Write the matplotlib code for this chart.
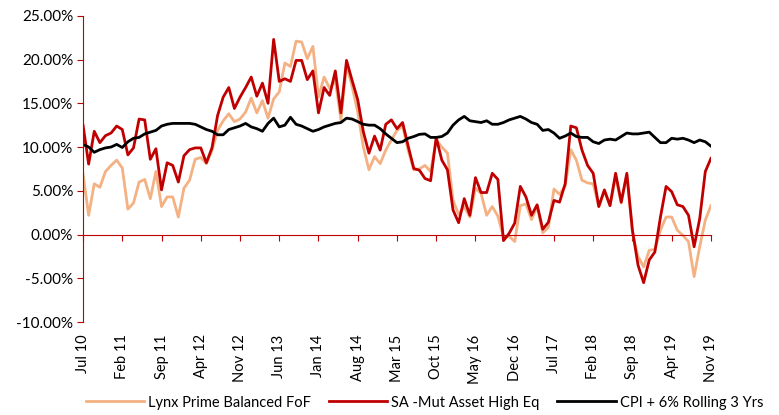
import matplotlib
matplotlib.use("Agg")
import matplotlib.pyplot as plt
import matplotlib.transforms as mtrans
import numpy as np

plt.rcParams['font.family'] = ['Lato', 'DejaVu Sans']

# monthly values, Jul 2010 .. Nov 2019 (in %)
lynx = [6.9, 2.2, 5.8, 5.4, 7.2, 7.9, 8.5, 7.6, 2.9, 3.6,
        6.0, 6.3, 4.1, 7.2, 3.2, 4.3, 4.3, 2.0, 5.3, 6.2,
        8.6, 8.8, 8.1, 9.6, 11.9, 13.0, 13.8, 12.9, 13.2, 14.0,
        15.6, 13.9, 15.3, 13.3, 15.5, 16.3, 19.6, 19.2, 22.1, 22.0,
        20.1, 21.5, 15.7, 18.0, 16.7, 17.65, 13.1, 19.4, 16.9, 14.0,
        10.0, 7.4, 8.9, 8.1, 9.65, 10.8, 11.9, 12.4, 9.6, 7.4,
        7.5, 7.9, 7.2, 10.8, 10.0, 9.3, 3.9, 2.3, 3.2, 2.0,
        5.3, 4.7, 2.2, 3.2, 2.1, -0.3, -0.2, -0.8, 3.3, 3.5,
        1.7, 3.2, 0.2, 0.8, 5.2, 4.6, 5.5, 9.7, 8.5, 6.2,
        5.9, 5.8, 3.2, 5.0, 3.3, 6.6, 3.6, 6.8, 0.2, -2.5,
        -3.7, -1.8, -1.7, 0.5, 2.0, 2.0, 0.5, -0.1, -0.8, -4.8,
        -1.4, 1.65, 3.3]

sa_high_eq = [12.5, 8.05, 11.8, 10.5, 11.3, 11.6, 12.4, 12.0, 9.1, 9.9,
              13.2, 13.1, 8.6, 9.8, 5.1, 8.2, 7.9, 6.0, 9.0, 9.7,
              9.9, 9.9, 8.2, 9.9, 13.6, 15.7, 16.8, 14.4, 15.7, 16.8,
              18.0, 15.8, 17.3, 15.0, 22.3, 17.5, 17.8, 17.5, 19.9, 19.9,
              17.7, 18.7, 13.9, 16.8, 15.9, 18.7, 13.9, 19.9, 17.6, 15.4,
              11.75, 9.3, 11.25, 9.65, 12.6, 13.1, 12.1, 12.8, 10.1, 7.55,
              7.35, 6.4, 6.15, 11.1, 8.5, 7.4, 2.8, 1.35, 4.1, 2.2,
              6.5, 4.8, 4.8, 7.0, 6.3, -0.7, 0.13, 1.3, 5.5, 4.3,
              2.2, 3.4, 0.6, 1.4, 3.9, 3.7, 5.8, 12.4, 12.2, 9.65,
              7.9, 7.0, 3.2, 5.1, 3.3, 7.0, 3.7, 7.0, 0.5, -3.5,
              -5.5, -2.9, -2.0, 2.0, 5.5, 4.9, 3.4, 3.2, 2.2, -1.4,
              1.8, 7.2, 8.7]

cpi_6 = [10.3, 10.0, 9.4, 9.7, 9.9, 10.0, 10.3, 9.95, 10.6, 11.0,
         11.1, 11.5, 11.7, 11.9, 12.4, 12.6, 12.7, 12.7, 12.7, 12.7,
         12.6, 12.3, 12.0, 11.8, 11.4, 11.4, 12.0, 12.2, 12.4, 12.7,
         12.3, 12.1, 11.8, 12.7, 13.3, 12.3, 12.5, 13.4, 12.6, 12.4,
         12.1, 11.8, 12.0, 12.3, 12.5, 12.7, 12.8, 13.3, 13.2, 12.9,
         12.6, 12.5, 12.5, 12.1, 11.5, 11.0, 10.5, 10.6, 11.0, 11.2,
         11.45, 11.5, 11.1, 11.1, 11.2, 11.6, 12.5, 13.1, 13.5, 13.0,
         12.9, 12.8, 13.0, 12.6, 12.6, 12.8, 13.1, 13.3, 13.5, 13.2,
         12.8, 12.6, 11.9, 12.0, 11.6, 11.0, 11.25, 11.6, 11.2, 11.1,
         11.1, 10.6, 10.4, 10.8, 10.9, 10.8, 11.2, 11.6, 11.5, 11.5,
         11.6, 11.7, 11.1, 10.5, 10.5, 11.0, 10.9, 11.0, 10.8, 10.5,
         10.8, 10.6, 10.1]

tick_labels = ["Jul 10", "Feb 11", "Sep 11", "Apr 12", "Nov 12", "Jun 13",
               "Jan 14", "Aug 14", "Mar 15", "Oct 15", "May 16", "Dec 16",
               "Jul 17", "Feb 18", "Sep 18", "Apr 19", "Nov 19"]
y_ticks = [25, 20, 15, 10, 5, 0, -5, -10]

axis_red = "#C00000"

fig = plt.figure(figsize=(7.79, 4.15), dpi=100)
ax = fig.add_axes([0.1066, 0.224, 0.806, 0.738])

x = np.arange(len(lynx))
ax.plot(x, lynx, color="#F4B183", lw=2.0, label="Lynx Prime Balanced FoF")
ax.plot(x, sa_high_eq, color="#C00000", lw=2.0, label="SA -Mut Asset High Eq")
ax.plot(x, cpi_6, color="black", lw=2.0, label="CPI + 6% Rolling 3 Yrs")

ax.set_xlim(0, len(lynx) - 1)
ax.set_ylim(-10, 25)

for s in ["top", "right"]:
    ax.spines[s].set_visible(False)
ax.spines["left"].set_color(axis_red)
ax.spines["bottom"].set_color(axis_red)
ax.spines["bottom"].set_position(("data", 0))

ax.set_yticks(y_ticks)
ax.set_yticklabels(["%.2f%%" % v for v in y_ticks], fontsize=11)
ax.tick_params(axis="y", direction="out", length=4, color=axis_red, pad=3)

xt = np.arange(0, len(lynx), 7)
ax.set_xticks(xt)
ax.set_xticklabels([])
ax.tick_params(axis="x", direction="out", length=4, color=axis_red)

trans = mtrans.blended_transform_factory(ax.transData, ax.transAxes)
for pos, lab in zip(xt, tick_labels):
    ax.text(pos, -0.04, lab, transform=trans, rotation=90,
            ha="center", va="top", fontsize=10.5)

fig.legend(loc="center", bbox_to_anchor=(0.545, 0.03), ncol=3, frameon=False,
           fontsize=10.5, handlelength=4.0, columnspacing=1.2, handletextpad=0.3)

fig.savefig("out.png", dpi=100)
